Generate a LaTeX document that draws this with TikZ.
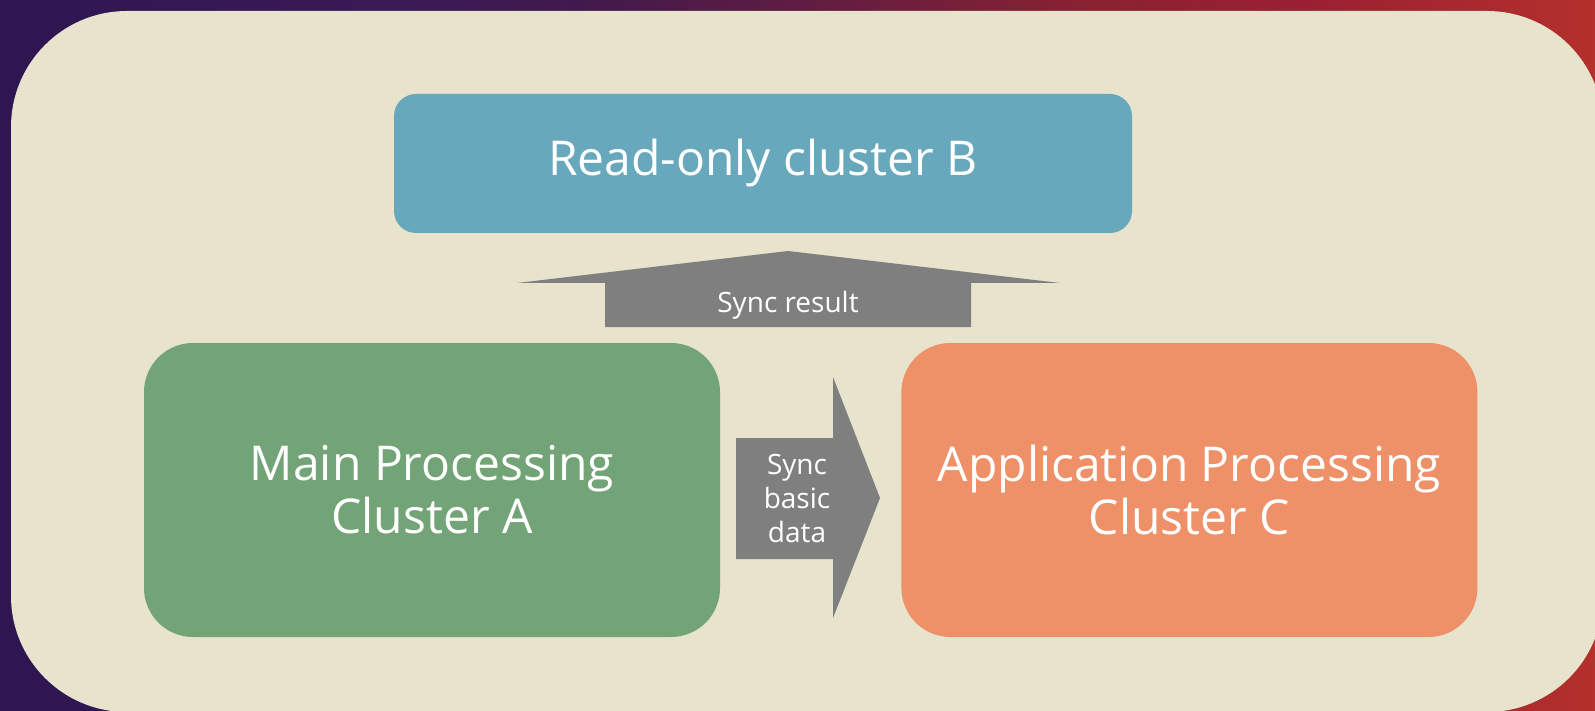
\documentclass[tikz,border=0pt]{standalone}
\usepackage{fontspec}
\setmainfont{Open Sans}
\usepackage{tikz}
\usetikzlibrary{positioning}

\definecolor{bgpurple}{HTML}{2E1652}
\definecolor{bgviolet}{HTML}{3A1A55}
\definecolor{bgplum}{HTML}{421A4C}
\definecolor{bgwine}{HTML}{8B2230}
\definecolor{bgcrimson}{HTML}{9A1F33}
\definecolor{bgred}{HTML}{B3302B}
\definecolor{panelbg}{HTML}{E7E3CC}
\definecolor{clusterA}{HTML}{73A477}
\definecolor{clusterB}{HTML}{67A8BC}
\definecolor{clusterC}{HTML}{EE9068}
\definecolor{syncgray}{HTML}{7F7F7F}

\pgfdeclarehorizontalshading{backdrop}{100bp}{color(0bp)=(bgpurple); color(25bp)=(bgpurple);
  color(37.5bp)=(bgviolet); color(43.8bp)=(bgplum); color(59.5bp)=(bgwine);
  color(65.8bp)=(bgcrimson); color(75bp)=(bgred); color(100bp)=(bgred)}

\begin{document}
\begin{tikzpicture}[x=1pt, y=-1pt,
    cluster/.style={fill=#1, text=white, align=center, inner sep=0pt,
      font=\fontsize{48}{53}\selectfont},
    synctext/.style={text=white, align=center, inner sep=0pt,
      font=\fontsize{28}{34}\selectfont}]
    % backdrop and panel
    \useasboundingbox (0,0) rectangle (1595,711);
    \shade [shading=backdrop] (0,0) rectangle (1595,711);
    \fill [panelbg, rounded corners=116pt] (11,11) rectangle (1603,712);
    % clusters
    \node [cluster=clusterB, rounded corners=22pt, minimum width=738pt, minimum height=139pt] (readB) at (763,163.5) {Read-only cluster B};
    \node [cluster=clusterA, rounded corners=49pt, minimum width=576pt, minimum height=294pt] (mainA) at (432,490) {Main Processing\\Cluster A};
    \node [cluster=clusterC, rounded corners=49pt, minimum width=576pt, minimum height=294pt, right=181pt of mainA] (appC) {Application Processing\\Cluster C};
    % sync arrows
    \fill [syncgray] (605,327) -- (605,283) -- (517,283) -- (788,251) -- (1060,283) -- (971,283) -- (971,327) -- cycle;
    \node [synctext] (syncres) at (788,305) {Sync result};
    \fill [syncgray] (736,438) -- (833,438) -- (833,377) -- (880,498) -- (833,618) -- (833,559) -- (736,559) -- cycle;
    \node [synctext] (syncbasic) at (797,498) {Sync\\basic\\data};
\end{tikzpicture}
\end{document}
